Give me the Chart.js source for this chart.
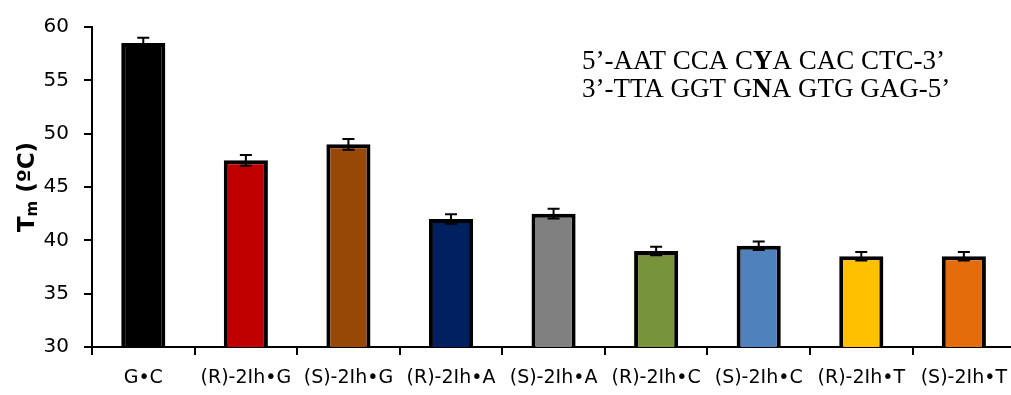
<!DOCTYPE html>
<html>
<head>
<meta charset="utf-8">
<script src="https://cdn.jsdelivr.net/npm/chart.js@4.4.1/dist/chart.umd.min.js"></script>
<style>
    html, body { margin: 0; padding: 0; background: #fff; overflow: hidden; }
    #wrap { width: 1019px; height: 395px; }
</style>
</head>
<body>
<div id="wrap"><canvas id="tmChart" width="1019" height="395"></canvas></div>
<script>
    // --- data ---
    const pairLabels = ['G\u2022C', '(R)-2Ih\u2022G', '(S)-2Ih\u2022G', '(R)-2Ih\u2022A', '(S)-2Ih\u2022A',
                        '(R)-2Ih\u2022C', '(S)-2Ih\u2022C', '(R)-2Ih\u2022T', '(S)-2Ih\u2022T'];
    const tmValues = [58.5, 47.5, 49.0, 42.0, 42.5, 39.0, 39.5, 38.5, 38.5];
    const tmErrors = [0.5, 0.5, 0.5, 0.45, 0.45, 0.4, 0.4, 0.4, 0.4];
    const barColors = ['#000000', '#C00000', '#974706', '#002060', '#808080',
                       '#77933C', '#4F81BD', '#FFC000', '#E46C0A'];
    const yTicks = [30, 35, 40, 45, 50, 55, 60];
    const seqTop = ['5\u2019-AAT CCA C', 'Y', 'A CAC CTC-3\u2019'];
    const seqBottom = ['3\u2019-TTA GGT G', 'N', 'A GTG GAG-5\u2019'];

    // error bars drawn through the y scale
    const errorBars = {
        id: 'errorBars',
        afterDatasetsDraw(chart) {
            const ctx = chart.ctx;
            const meta = chart.getDatasetMeta(0);
            const y = chart.scales.y;
            ctx.save();
            ctx.strokeStyle = '#000';
            ctx.lineWidth = 2;
            meta.data.forEach((bar, i) => {
                const hi = y.getPixelForValue(tmValues[i] + tmErrors[i]);
                const lo = y.getPixelForValue(tmValues[i] - tmErrors[i]);
                ctx.beginPath();
                ctx.moveTo(bar.x, hi); ctx.lineTo(bar.x, lo);
                ctx.moveTo(bar.x - 6, hi); ctx.lineTo(bar.x + 6, hi);
                ctx.moveTo(bar.x - 6, lo); ctx.lineTo(bar.x + 6, lo);
                ctx.stroke();
            });
            ctx.restore();
        }
    };

    // mixed-weight text: y title with subscript, sequence box
    function drawRuns(ctx, runs, x, y) {
        runs.forEach(r => {
            ctx.font = r.font;
            ctx.fillText(r.text, x, y + (r.dy || 0));
            x += ctx.measureText(r.text).width;
        });
    }

    const extras = {
        id: 'extras',
        afterDraw(chart) {
            const ctx = chart.ctx;
            const area = chart.chartArea;
            ctx.save();
            ctx.fillStyle = '#000';
            ctx.textBaseline = 'alphabetic';

            // y axis title
            ctx.save();
            ctx.translate(34, (area.top + area.bottom) / 2);
            ctx.rotate(-Math.PI / 2);
            const runs = [
                { text: 'T', font: 'bold 23px "DejaVu Sans"' },
                { text: 'm', font: 'bold 15px "DejaVu Sans"', dy: 3 },
                { text: ' (\u00baC)', font: 'bold 23px "DejaVu Sans"' }
            ];
            let w = 0;
            runs.forEach(r => { ctx.font = r.font; w += ctx.measureText(r.text).width; });
            drawRuns(ctx, runs, -w / 2, 0);
            ctx.restore();

            // duplex sequence
            const reg = '27px "Liberation Serif"';
            const bold = 'bold 27px "Liberation Serif"';
            const sx = area.left + 490;
            drawRuns(ctx, [{ text: seqTop[0], font: reg }, { text: seqTop[1], font: bold }, { text: seqTop[2], font: reg }], sx, area.top + 42);
            drawRuns(ctx, [{ text: seqBottom[0], font: reg }, { text: seqBottom[1], font: bold }, { text: seqBottom[2], font: reg }], sx, area.top + 70);
            ctx.restore();
        }
    };

    const ctx = document.getElementById('tmChart').getContext('2d');
    new Chart(ctx, {
        type: 'bar',
        data: {
            labels: pairLabels,
            datasets: [{
                data: tmValues,
                backgroundColor: barColors,
                borderColor: '#000',
                borderWidth: 4,
                categoryPercentage: 1.0,
                barPercentage: 0.43
            }]
        },
        options: {
            responsive: false,
            animation: false,
            layout: { padding: { top: 24, right: 0, left: 0, bottom: 0 } },
            plugins: {
                legend: { display: false },
                tooltip: { enabled: false }
            },
            scales: {
                x: {
                    afterFit: (s) => { s.height = 48; },
                    border: { color: '#000', width: 2 },
                    grid: {
                        offset: true,
                        drawOnChartArea: false,
                        color: '#000',
                        lineWidth: 2,
                        tickLength: 8
                    },
                    ticks: {
                        color: '#000',
                        padding: 12,
                        maxRotation: 0,
                        autoSkip: false,
                        font: { family: '"DejaVu Sans"', size: 19 }
                    }
                },
                y: {
                    min: 30,
                    max: 60,
                    afterFit: (s) => { s.width = 92; },
                    afterBuildTicks: (s) => { s.ticks = yTicks.map(v => ({ value: v })); },
                    border: { color: '#000', width: 2 },
                    grid: {
                        drawOnChartArea: false,
                        color: '#000',
                        lineWidth: 2,
                        tickLength: 8
                    },
                    ticks: {
                        color: '#000',
                        padding: 15,
                        font: { family: '"DejaVu Sans"', size: 20 }
                    }
                }
            }
        },
        plugins: [errorBars, extras]
    });
</script>
</body>
</html>
